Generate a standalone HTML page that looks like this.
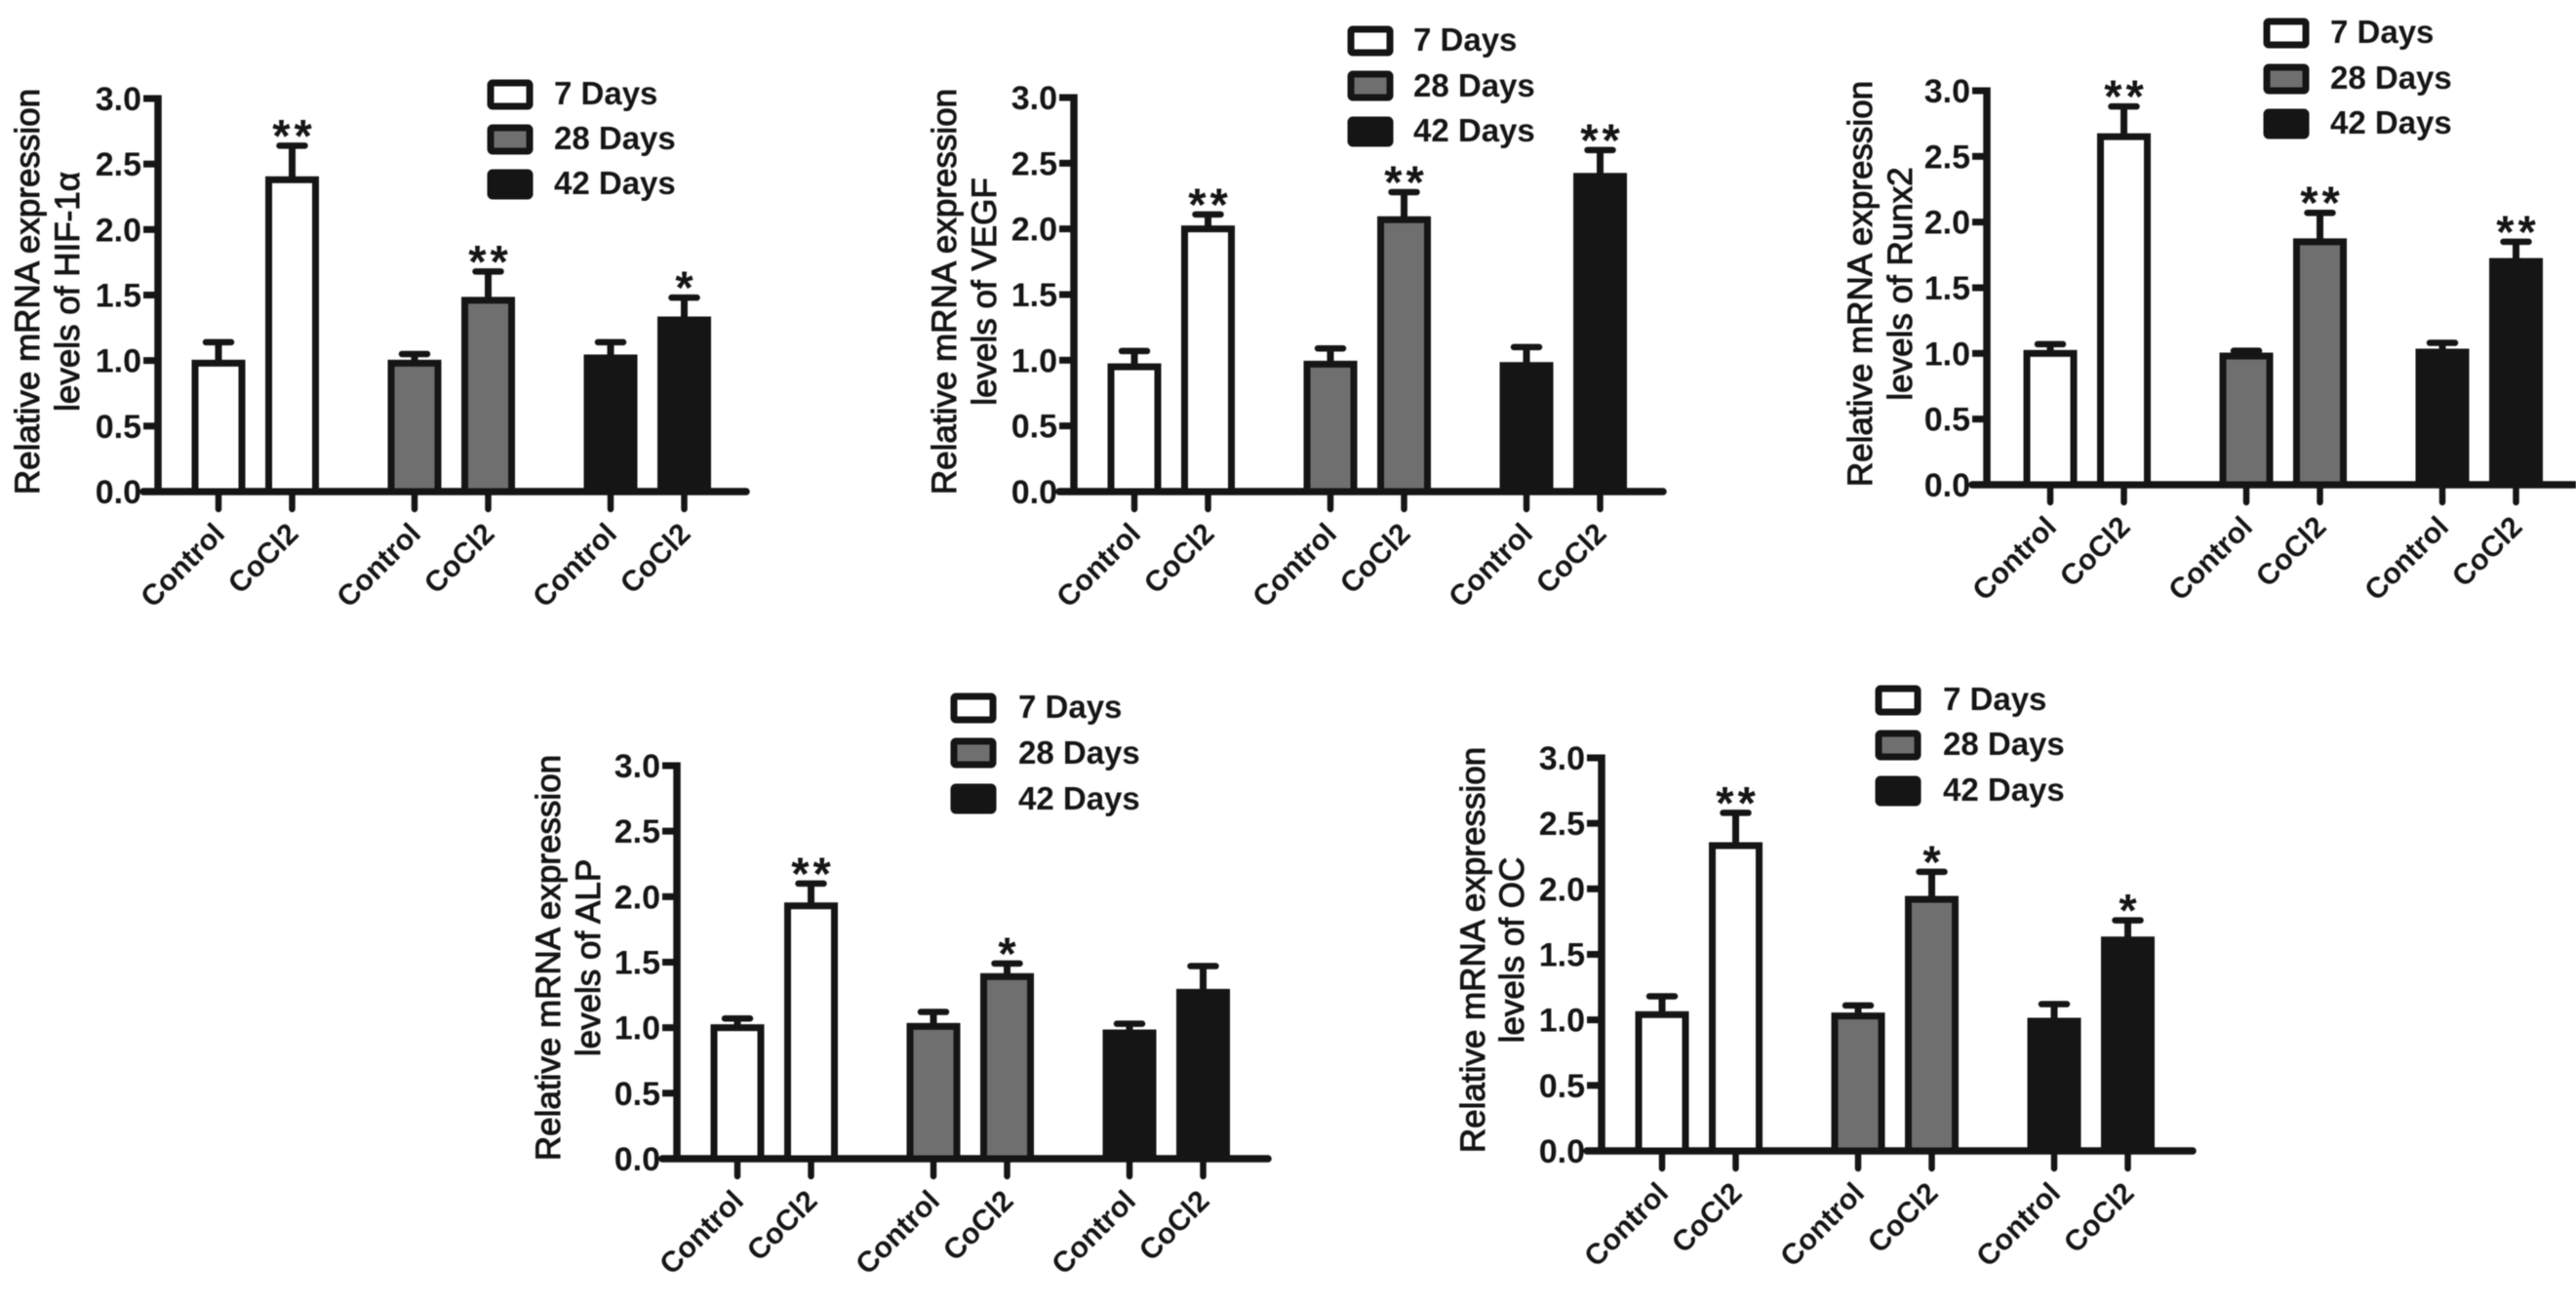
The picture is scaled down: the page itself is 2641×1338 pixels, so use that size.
<!DOCTYPE html>
<html lang="en">
<head>
<meta charset="utf-8">
<title>Relative mRNA expression levels</title>
<style>
html,body{margin:0;padding:0;background:#fff;}
svg{display:block;filter:blur(0.6px);}
text{font-family:"Liberation Sans",sans-serif;fill:#151515;}
.title{font-size:35px;text-anchor:middle;stroke:#151515;stroke-width:1px;}
.legend{font-size:33px;font-weight:bold;}
.sw{stroke:#151515;stroke-width:7px;}
</style>
</head>
<body>
<svg id="figure" width="2641" height="1338" viewBox="0 0 2641 1338" xmlns="http://www.w3.org/2000/svg">
<rect width="2641" height="1338" fill="#fff"/>

<g id="p-hif">
  <text class="title" transform="translate(40,299) rotate(-90)">Relative mRNA expression</text>
  <text class="title" transform="translate(81,299) rotate(-90)">levels of HIF-1α</text>
  <rect class="sw" x="503" y="85" width="40" height="24" rx="2" fill="#fff"/>
  <text class="legend" x="568" y="107">7 Days</text>
  <rect class="sw" x="503" y="131" width="40" height="24" rx="2" fill="#6f6f6f"/>
  <text class="legend" x="568" y="153">28 Days</text>
  <rect class="sw" x="503" y="177" width="40" height="24" rx="2" fill="#151515"/>
  <text class="legend" x="568" y="199">42 Days</text>
</g>

<g id="p-vegf">
  <text class="title" transform="translate(980,299) rotate(-90)">Relative mRNA expression</text>
  <text class="title" transform="translate(1021,299) rotate(-90)">levels of VEGF</text>
  <rect class="sw" x="1385" y="30" width="40" height="24" rx="2" fill="#fff"/>
  <text class="legend" x="1449" y="52">7 Days</text>
  <rect class="sw" x="1385" y="76" width="40" height="24" rx="2" fill="#6f6f6f"/>
  <text class="legend" x="1449" y="99">28 Days</text>
  <rect class="sw" x="1385" y="123" width="40" height="24" rx="2" fill="#151515"/>
  <text class="legend" x="1449" y="145">42 Days</text>
</g>

<g id="p-runx">
  <text class="title" transform="translate(1919,291) rotate(-90)">Relative mRNA expression</text>
  <text class="title" transform="translate(1960,291) rotate(-90)">levels of Runx2</text>
  <rect class="sw" x="2324" y="22" width="40" height="24" rx="2" fill="#fff"/>
  <text class="legend" x="2389" y="44">7 Days</text>
  <rect class="sw" x="2324" y="69" width="40" height="24" rx="2" fill="#6f6f6f"/>
  <text class="legend" x="2389" y="91">28 Days</text>
  <rect class="sw" x="2324" y="115" width="40" height="24" rx="2" fill="#151515"/>
  <text class="legend" x="2389" y="137">42 Days</text>
</g>

<g id="p-alp">
  <text class="title" transform="translate(574,982) rotate(-90)">Relative mRNA expression</text>
  <text class="title" transform="translate(615,982) rotate(-90)">levels of ALP</text>
  <rect class="sw" x="978" y="714" width="40" height="24" rx="2" fill="#fff"/>
  <text class="legend" x="1044" y="736">7 Days</text>
  <rect class="sw" x="978" y="760" width="40" height="24" rx="2" fill="#6f6f6f"/>
  <text class="legend" x="1044" y="783">28 Days</text>
  <rect class="sw" x="978" y="807" width="40" height="24" rx="2" fill="#151515"/>
  <text class="legend" x="1044" y="830">42 Days</text>
</g>

<g id="p-oc">
  <text class="title" transform="translate(1522,974) rotate(-90)">Relative mRNA expression</text>
  <text class="title" transform="translate(1562,974) rotate(-90)">levels of OC</text>
  <rect class="sw" x="1926" y="706" width="40" height="24" rx="2" fill="#fff"/>
  <text class="legend" x="1992" y="728">7 Days</text>
  <rect class="sw" x="1926" y="752" width="40" height="24" rx="2" fill="#6f6f6f"/>
  <text class="legend" x="1992" y="774">28 Days</text>
  <rect class="sw" x="1926" y="799" width="40" height="24" rx="2" fill="#151515"/>
  <text class="legend" x="1992" y="821">42 Days</text>
</g>
</svg>

<script>
// ---- shared categories and tick labels ----
const categories = ["Control", "CoCl2", "Control", "CoCl2", "Control", "CoCl2"];
const yTicks = [0, 0.5, 1, 1.5, 2, 2.5, 3];
const yTickLabels = ["0.0", "0.5", "1.0", "1.5", "2.0", "2.5", "3.0"];

// ---- values (bar mean, top of error bar, significance) ----
const hifMeans = [0.98, 2.38, 0.98, 1.46, 1.02, 1.31];
const hifTops = [1.14, 2.64, 1.05, 1.68, 1.14, 1.48];
const hifStars = ["", "**", "", "**", "", "*"];

const vegfMeans = [0.95, 2.00, 0.97, 2.07, 0.96, 2.40];
const vegfTops = [1.07, 2.11, 1.09, 2.28, 1.10, 2.60];
const vegfStars = ["", "**", "", "**", "", "**"];

const runxMeans = [1.00, 2.65, 0.98, 1.85, 1.01, 1.70];
const runxTops = [1.07, 2.88, 1.02, 2.07, 1.08, 1.85];
const runxStars = ["", "**", "", "**", "", "**"];

const alpMeans = [1.00, 1.93, 1.01, 1.39, 0.96, 1.27];
const alpTops = [1.07, 2.10, 1.12, 1.49, 1.03, 1.47];
const alpStars = ["", "**", "", "*", "", ""];

const ocMeans = [1.04, 2.33, 1.03, 1.92, 0.99, 1.61];
const ocTops = [1.18, 2.58, 1.11, 2.13, 1.12, 1.76];
const ocStars = ["", "**", "", "*", "", "*"];

const seriesFills = ["#ffffff", "#ffffff", "#6f6f6f", "#6f6f6f", "#151515", "#151515"];

const SVGNS = "http://www.w3.org/2000/svg";
const INK = "#151515";

function mk(parent, tag, attrs) {
  const el = document.createElementNS(SVGNS, tag);
  for (const k in attrs) el.setAttribute(k, attrs[k]);
  parent.appendChild(el);
  return el;
}

// axis functions
function xScale(frame, i) {
  return frame.axisX + frame.inset + Math.floor(i / 2) * 201 + (i % 2) * 75.5;
}
function yScale(frame, v) {
  return frame.y0 + (frame.y3 - frame.y0) * v / 3;
}

function drawAxes(root, frame) {
  const yAxis = mk(root, "line", {x1: frame.axisX, x2: frame.axisX, y1: frame.y3 - 3.5, y2: frame.y0, stroke: INK, "stroke-width": 7.5});
  
  
  const xAxis = mk(root, "line", {x1: frame.axisX - 15, x2: frame.xEnd, y1: frame.y0, y2: frame.y0, stroke: INK, "stroke-width": 7.5, "stroke-linecap": "round"});
  
  
  yTicks.forEach(function (t, i) {
    const y = yScale(frame, t);
    const tick = mk(root, "line", {x1: frame.axisX - 15, x2: frame.axisX, y1: y, y2: y, stroke: INK, "stroke-width": 7});
    
    
    const label = mk(root, "text", {x: frame.axisX - 17, y: y + 12, "text-anchor": "end", "font-size": 34, "font-weight": "bold"});
    label.textContent = yTickLabels[i];
    
    
  });
}

function drawBars(root, frame, means, tops, stars) {
  means.forEach(function (m, i) {
    const cx = xScale(frame, i);
    const yM = yScale(frame, m);
    const yT = yScale(frame, tops[i]);

    const stem = mk(root, "line", {x1: cx, x2: cx, y1: yT, y2: yM, stroke: INK, "stroke-width": 7});
    
    
    const cap = mk(root, "line", {x1: cx - 13, x2: cx + 13, y1: yT, y2: yT, stroke: INK, "stroke-width": 6.5, "stroke-linecap": "round"});
    
    

    const bar = mk(root, "rect", {x: cx - 24, y: yM, width: 48, height: frame.y0 - yM, fill: seriesFills[i], stroke: INK, "stroke-width": 7});
    
    

    const tick = mk(root, "line", {x1: cx, x2: cx, y1: frame.y0, y2: frame.y0 + 18, stroke: INK, "stroke-width": 6.5, "stroke-linecap": "round"});
    
    

    const lx = cx + 8, ly = frame.y0 + 45;
    const label = mk(root, "text", {x: lx, y: ly, "text-anchor": "end", "font-size": 30, "font-weight": "bold", transform: "rotate(-45 " + lx + " " + ly + ")"});
    label.textContent = categories[i];
    
    

    if (stars[i]) {
      const star = mk(root, "text", {x: cx + 2, y: yT + 6, "text-anchor": "middle", "font-size": 47, "font-weight": "bold", "letter-spacing": 4});
      star.textContent = stars[i];
      
      
    }
  });
}

const hifFrame = {axisX: 162, y0: 504, y3: 101, xEnd: 765, inset: 62};
const vegfFrame = {axisX: 1101, y0: 504, y3: 100, xEnd: 1705, inset: 62};
const runxFrame = {axisX: 2037, y0: 497, y3: 93, xEnd: 2641, inset: 65};
const alpFrame = {axisX: 694, y0: 1188, y3: 785, xEnd: 1300, inset: 62};
const ocFrame = {axisX: 1642, y0: 1180, y3: 777, xEnd: 2248, inset: 62};

drawAxes(document.getElementById("p-hif"), hifFrame);
drawBars(document.getElementById("p-hif"), hifFrame, hifMeans, hifTops, hifStars);
drawAxes(document.getElementById("p-vegf"), vegfFrame);
drawBars(document.getElementById("p-vegf"), vegfFrame, vegfMeans, vegfTops, vegfStars);
drawAxes(document.getElementById("p-runx"), runxFrame);
drawBars(document.getElementById("p-runx"), runxFrame, runxMeans, runxTops, runxStars);
drawAxes(document.getElementById("p-alp"), alpFrame);
drawBars(document.getElementById("p-alp"), alpFrame, alpMeans, alpTops, alpStars);
drawAxes(document.getElementById("p-oc"), ocFrame);
drawBars(document.getElementById("p-oc"), ocFrame, ocMeans, ocTops, ocStars);
</script>
</body>
</html>
